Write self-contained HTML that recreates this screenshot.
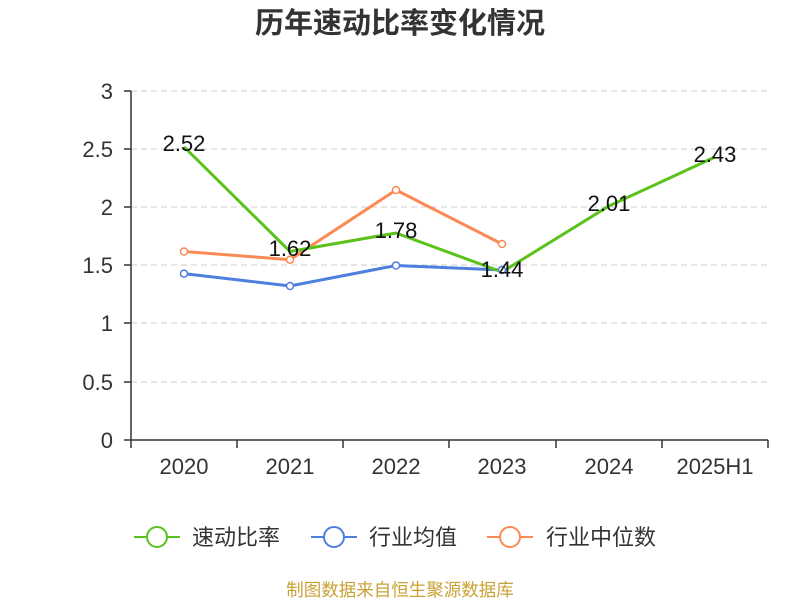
<!DOCTYPE html>
<html><head><meta charset="utf-8"><style>
html,body{margin:0;padding:0;background:#fff;}
svg{display:block;font-family:"Liberation Sans","Noto Sans CJK SC",sans-serif;}
</style></head><body>
<svg width="800" height="600" viewBox="0 0 800 600">
<text x="400" y="33" text-anchor="middle" font-size="29" font-weight="bold" fill="#333">历年速动比率变化情况</text>
<g stroke="#ccc" stroke-width="1" stroke-dasharray="6,4">
<line x1="131" x2="768" y1="91" y2="91"/>
<line x1="131" x2="768" y1="149" y2="149"/>
<line x1="131" x2="768" y1="207" y2="207"/>
<line x1="131" x2="768" y1="265" y2="265"/>
<line x1="131" x2="768" y1="323" y2="323"/>
<line x1="131" x2="768" y1="382" y2="382"/>
</g>
<g stroke="#333" stroke-width="1.5">
<line x1="131" x2="131" y1="91" y2="440"/>
<line x1="131" x2="768" y1="440" y2="440"/>
<line x1="124" x2="131" y1="91" y2="91"/><line x1="124" x2="131" y1="149" y2="149"/>
<line x1="124" x2="131" y1="207" y2="207"/><line x1="124" x2="131" y1="265" y2="265"/>
<line x1="124" x2="131" y1="323" y2="323"/><line x1="124" x2="131" y1="382" y2="382"/>
<line x1="124" x2="131" y1="440" y2="440"/>
<line x1="131" x2="131" y1="440" y2="448"/><line x1="237" x2="237" y1="440" y2="448"/>
<line x1="343" x2="343" y1="440" y2="448"/><line x1="449" x2="449" y1="440" y2="448"/>
<line x1="556" x2="556" y1="440" y2="448"/><line x1="662" x2="662" y1="440" y2="448"/>
<line x1="768" x2="768" y1="440" y2="448"/>
</g>
<g font-size="22" fill="#333" text-anchor="end">
<text x="113" y="99">3</text><text x="113" y="157">2.5</text><text x="113" y="215">2</text>
<text x="113" y="273">1.5</text><text x="113" y="331">1</text><text x="113" y="390">0.5</text><text x="113" y="448">0</text>
</g>
<g font-size="22" fill="#333" text-anchor="middle">
<text x="184" y="474">2020</text><text x="290" y="474">2021</text><text x="396" y="474">2022</text>
<text x="502" y="474">2023</text><text x="609" y="474">2024</text><text x="715" y="474">2025H1</text>
</g>
<polyline fill="none" stroke="#4e7fdf" stroke-width="3" points="184,273.6 290,286 396,265.5 502,270"/>
<polyline fill="none" stroke="#fb8a55" stroke-width="3" points="184,251.5 290,259.7 396,190 502,244"/>
<polyline fill="none" stroke="#5ac21a" stroke-width="3" points="184,146.8 290,251.5 396,233 502,272 609,206 715,157"/>
<g fill="#fff" stroke-width="1.5">
<g stroke="#4e7fdf"><circle cx="184" cy="273.6" r="3.5"/><circle cx="290" cy="286" r="3.5"/><circle cx="396" cy="265.5" r="3.5"/><circle cx="502" cy="270" r="3.5"/></g>
<g stroke="#fb8a55"><circle cx="184" cy="251.5" r="3.5"/><circle cx="290" cy="259.7" r="3.5"/><circle cx="396" cy="190" r="3.5"/><circle cx="502" cy="244" r="3.5"/></g>
</g>
<g font-size="22" fill="#111" text-anchor="middle">
<text x="184" y="151">2.52</text><text x="290" y="256">1.62</text><text x="396" y="238">1.78</text>
<text x="502" y="277">1.44</text><text x="609" y="211">2.01</text><text x="715" y="162">2.43</text>
</g>
<g stroke-width="2" fill="#fff">
<line x1="134" x2="180" y1="537" y2="537" stroke="#5ac21a"/><circle cx="157" cy="537" r="10" stroke="#5ac21a"/>
<line x1="311" x2="357" y1="537" y2="537" stroke="#4e7fdf"/><circle cx="334" cy="537" r="10" stroke="#4e7fdf"/>
<line x1="487" x2="533" y1="537" y2="537" stroke="#fb8a55"/><circle cx="510" cy="537" r="10" stroke="#fb8a55"/>
</g>
<g font-size="22" fill="#333">
<text x="192" y="545">速动比率</text><text x="369" y="545">行业均值</text><text x="546" y="545">行业中位数</text>
</g>
<text x="400" y="596" text-anchor="middle" font-size="17.5" fill="#c9a236">制图数据来自恒生聚源数据库</text>
</svg>
</body></html>
